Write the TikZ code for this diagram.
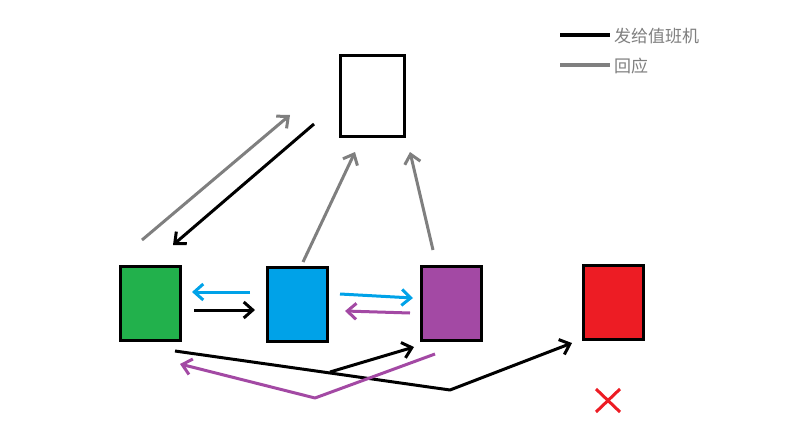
\documentclass[tikz,border=0pt]{standalone}
\usepackage{fontspec}
\newfontfamily\cjk{Noto Sans CJK SC}
\usetikzlibrary{arrows.meta}
\definecolor{gr}{HTML}{22B14C}
\definecolor{bl}{HTML}{00A2E8}
\definecolor{pu}{HTML}{A349A4}
\definecolor{rd}{HTML}{ED1C24}
\definecolor{gy}{HTML}{7F7F7F}
\begin{document}
\begin{tikzpicture}[x=1pt,y=-1pt,
  box/.style={draw=black,line width=3pt,minimum width=60pt,minimum height=74pt,inner sep=0pt},
  arr/.style={line width=3pt,-{Straight Barb[length=9pt,width=16pt]}},
  ln/.style={line width=3pt}]
\useasboundingbox (0,0) rectangle (803,447);
\node[box,fill=white,minimum width=64pt,minimum height=81pt] (top) at (372,96) {};
\node[box,fill=gr] (g) at (150,303) {};
\node[box,fill=bl] (b) at (297,304) {};
\node[box,fill=pu] (p) at (451,303) {};
\node[box,fill=rd] (r) at (613,302) {};
% top arrows
\coordinate (a1) at (142,240); \coordinate (a2) at (290,115);
\draw[arr,gy] (a1) -- (a2);
\coordinate (a3) at (314,124); \coordinate (a4) at (173,245);
\draw[arr,black] (a3) -- (a4);
\coordinate (a5) at (303,262); \coordinate (a6) at (355,152);
\draw[arr,gy] (a5) -- (a6);
\coordinate (a7) at (433,250); \coordinate (a8) at (410,152);
\draw[arr,gy] (a7) -- (a8);
% middle arrows
\coordinate (m1) at (250,292); \coordinate (m2) at (192,292);
\draw[arr,bl] (m1) -- (m2);
\coordinate (m3) at (194,310); \coordinate (m4) at (255,310);
\draw[arr,black] (m3) -- (m4);
\coordinate (m5) at (340,294); \coordinate (m6) at (413,298);
\draw[arr,bl] (m5) -- (m6);
\coordinate (m7) at (410,313); \coordinate (m8) at (345,311);
\draw[arr,pu] (m7) -- (m8);
% bottom
\coordinate (b1) at (175,351); \coordinate (b2) at (450,390); \coordinate (b3) at (572,343);
\draw[arr,black,line join=round] (b1) -- (b2) -- (b3);
\coordinate (b4) at (330,372); \coordinate (b5) at (414,347);
\draw[arr,black] (b4) -- (b5);
\coordinate (c1) at (435,354); \coordinate (c2) at (315,398); \coordinate (c3) at (180,364);
\draw[arr,pu,line join=round] (c1) -- (c2) -- (c3);
% X
\coordinate (x1) at (596,389); \coordinate (x2) at (620,412);
\coordinate (x3) at (620,389); \coordinate (x4) at (596,412);
\draw[ln,rd] (x1) -- (x2); \draw[ln,rd] (x3) -- (x4);
% legend
\coordinate (l1) at (560,35); \coordinate (l2) at (610,35);
\draw[ln,black,line width=4pt] (l1) -- (l2);
\node[anchor=west,text=gy,font=\cjk\fontsize{17pt}{17pt}\selectfont,inner sep=0pt] (t1) at (614,36) {发给值班机};
\coordinate (l3) at (560,65); \coordinate (l4) at (610,65);
\draw[ln,gy,line width=4pt] (l3) -- (l4);
\node[anchor=west,text=gy,font=\cjk\fontsize{17pt}{17pt}\selectfont,inner sep=0pt] (t2) at (614,66) {回应};
\end{tikzpicture}
\end{document}
